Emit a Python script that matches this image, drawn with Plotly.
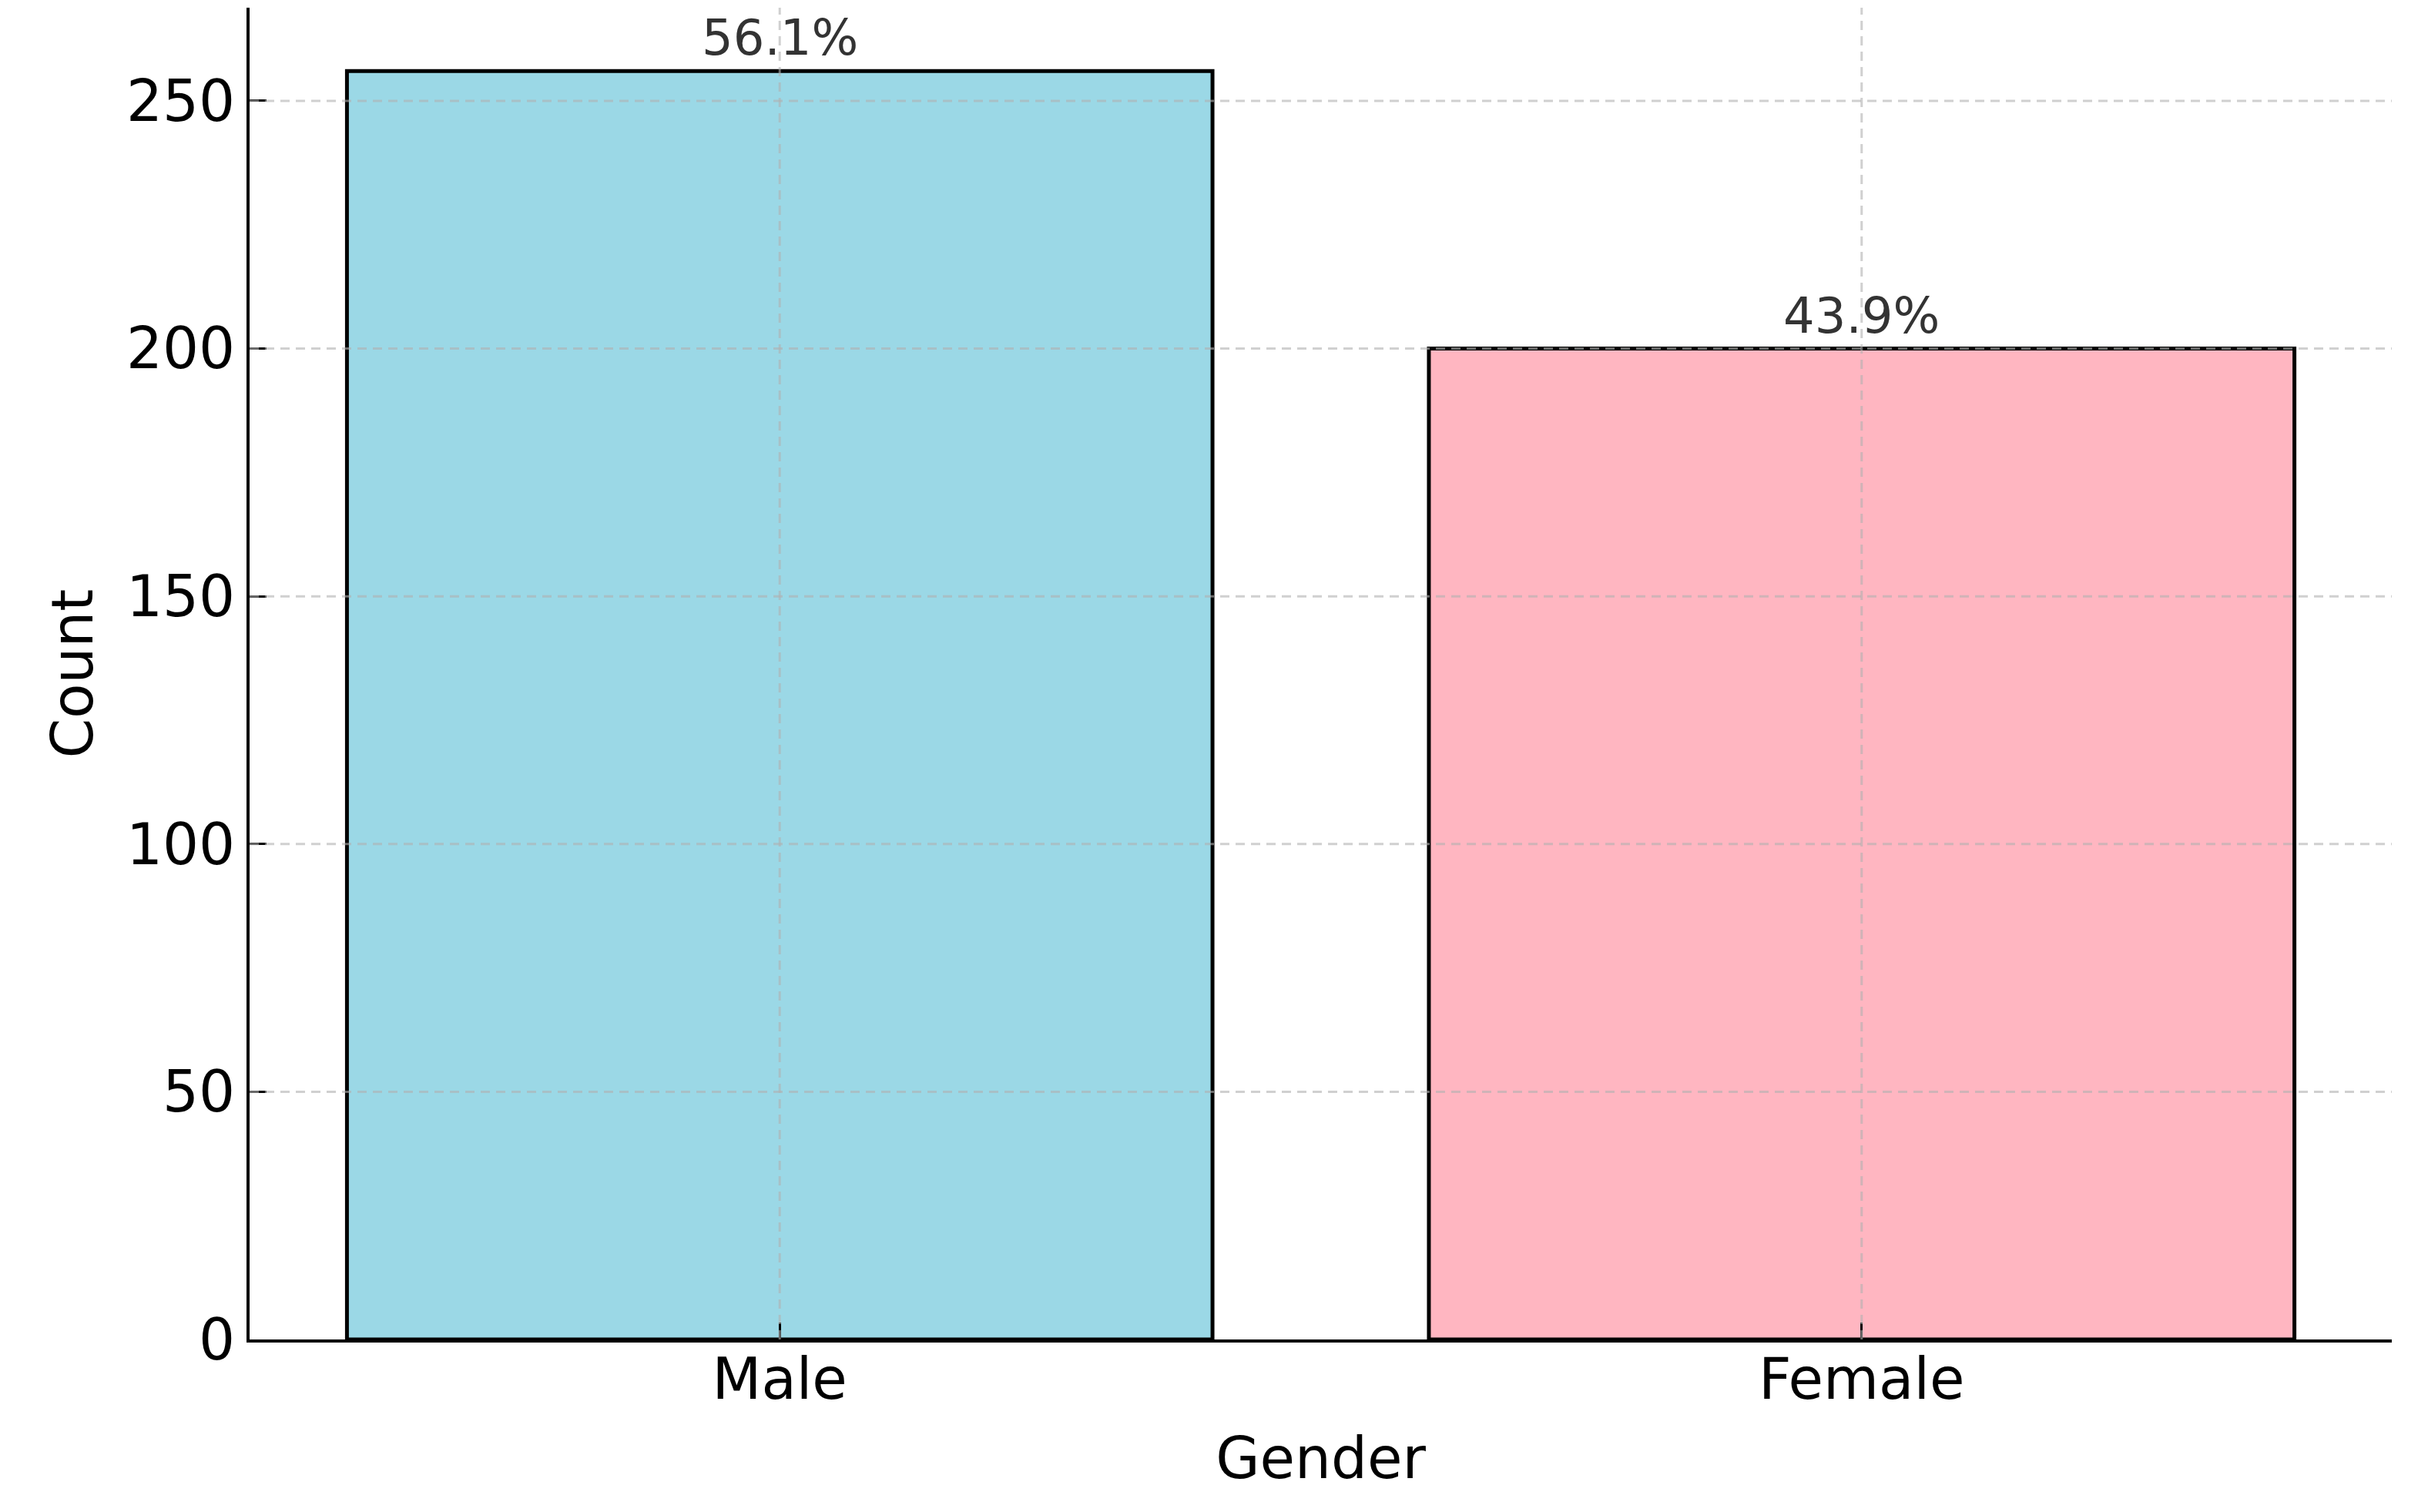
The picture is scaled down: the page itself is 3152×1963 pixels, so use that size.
import plotly.graph_objects as go

# Data
categories = ["Male", "Female"]
counts = [256, 200]
bar_colors = ["#9BD8E6", "#FFB6C1"]
y_ticks = [0, 50, 100, 150, 200, 250]

total = sum(counts)
pct_labels = [f"{c / total * 100:.1f}%" for c in counts]

FONT = "DejaVu Sans"
GRID = "rgba(176,176,176,0.6)"

fig = go.Figure()
fig.add_trace(go.Bar(
    x=categories,
    y=counts,
    marker=dict(color=bar_colors, line=dict(color="black", width=5)),
    width=0.8,
    showlegend=False,
    hoverinfo="x+y",
))

# bar percentage labels
for cat, val, lab in zip(categories, counts, pct_labels):
    fig.add_annotation(
        x=cat, y=val, text=lab, showarrow=False,
        yanchor="bottom", yshift=4,
        font=dict(family=FONT, size=64, color="#333333"),
    )

# gridlines drawn above bars (as in the reference)
shapes = []
for t in y_ticks:
    if t == 0:
        continue
    shapes.append(dict(type="line", xref="paper", x0=0, x1=1, yref="y", y0=t, y1=t,
                       line=dict(color=GRID, width=3, dash="12px,8px"), layer="above"))
for cat in categories:
    shapes.append(dict(type="line", xref="x", x0=cat, x1=cat, yref="paper", y0=0, y1=1,
                       line=dict(color=GRID, width=3, dash="12px,8px"), layer="above"))
fig.update_layout(shapes=shapes)

fig.update_layout(
    width=3144, height=1955,
    paper_bgcolor="white", plot_bgcolor="white",
    margin=dict(l=316, r=47, t=2, b=224),
    font=dict(family=FONT, color="black"),
    xaxis=dict(
        type="category",
        range=[-0.49, 1.49],
        showgrid=False,
        showline=True, linecolor="black", linewidth=4,
        ticks="inside", ticklen=22, tickwidth=3, tickcolor="black",
        tickfont=dict(family=FONT, size=74, color="black"),
        ticklabelstandoff=-16,
        title=dict(text="Gender", font=dict(family=FONT, size=74, color="black"), standoff=36),
        zeroline=False,
        layer="above traces",
    ),
    yaxis=dict(
        range=[0, max(counts) * 1.05],
        tickvals=y_ticks,
        showgrid=False,
        showline=True, linecolor="black", linewidth=4,
        ticks="inside", ticklen=22, tickwidth=3, tickcolor="black",
        tickfont=dict(family=FONT, size=74, color="black"),
        title=dict(text="Count", font=dict(family=FONT, size=74, color="black"), standoff=20),
        zeroline=False,
        layer="above traces",
    ),
)

fig.write_html("out.html")
